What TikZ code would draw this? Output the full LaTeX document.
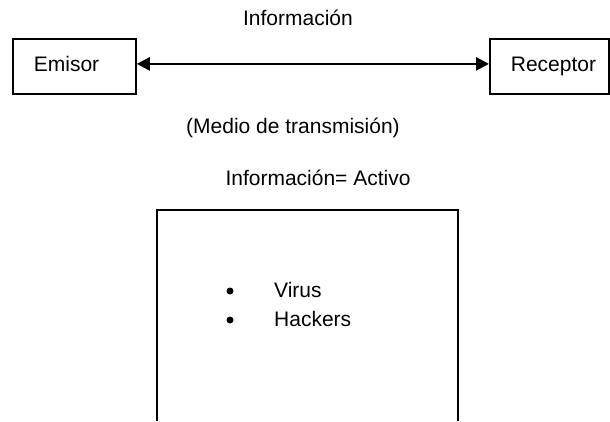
\documentclass[tikz,border=0pt]{standalone}
\usepackage{fontspec}
\setmainfont{Liberation Sans}
\usetikzlibrary{arrows.meta}
\tikzset{
  txt/.style={font=\fontsize{21}{25}\selectfont, inner sep=0pt},
  boxnode/.style={txt, draw, line width=1.8pt, anchor=north west,
    inner xsep=21pt, inner ysep=0pt, text width=81pt, text height=15pt, text depth=5pt,
    minimum height=55pt, align=left},
  link/.style={line width=2.5pt, {Triangle[length=13pt,width=13pt]}-{Triangle[length=13pt,width=13pt]}},
  frame/.style={line width=2pt},
  dot/.style={circle, fill, inner sep=0pt, minimum size=7pt}
}
\begin{document}
\begin{tikzpicture}[x=1pt,y=-1pt]
\useasboundingbox (0,0) rectangle (610,421);
\node[boxnode] (emisor) at (12,38) {Emisor};
\node[boxnode, text width=77pt] (receptor) at (489,38) {Receptor};
\draw[link] ([yshift=2.5pt]emisor.east) -- ([yshift=2.5pt]receptor.west);
\node[txt] (info) at (298,18) {Información};
\node[txt] (medio) at (293,128) {(Medio de transmisión)};
\node[txt] (activo) at (318,178) {Información= Activo};
\draw[frame] (157,421) -- (157,210) -- (458,210) -- (458,421);
\node[dot] (b1) at (230,291) {};
\node[txt, anchor=west] (virus) at (274,290) {Virus};
\node[dot] (b2) at (230,320) {};
\node[txt, anchor=west] (hackers) at (274,319) {Hackers};
\end{tikzpicture}
\end{document}
